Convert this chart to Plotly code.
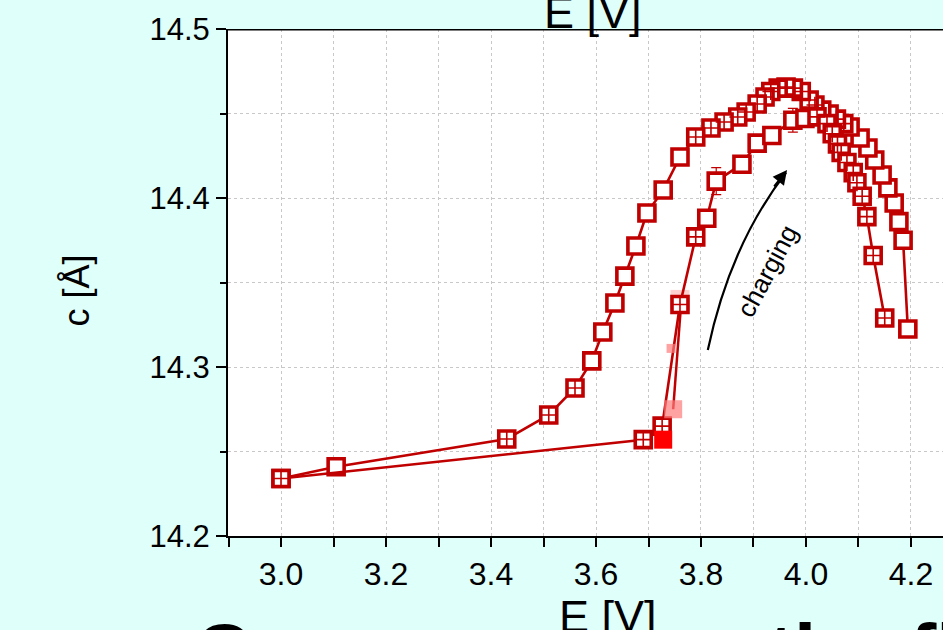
import plotly.graph_objects as go

# ---- data ----
charge_E = [3.000, 3.690, 3.726, 3.760, 3.790, 3.811, 3.829, 3.878, 3.907, 3.935, 3.975, 3.998,
            4.021, 4.040, 4.050, 4.060, 4.067, 4.078, 4.090, 4.097, 4.107, 4.116, 4.128, 4.150]
charge_c = [14.234, 14.257, 14.265, 14.337, 14.377, 14.388, 14.410, 14.420, 14.4325, 14.437, 14.446, 14.447,
            14.448, 14.444, 14.438, 14.432, 14.427, 14.421, 14.415, 14.409, 14.401, 14.389, 14.366, 14.329]
charge_cross = [1, 1, 1, 1, 1, 0, 0, 0, 0, 0, 0, 0,
                1, 1, 1, 1, 1, 1, 1, 1, 1, 1, 1, 1]
charge_err = [0, 0, 0, 0, 0, 0, 0.008, 0, 0, 0, 0.007, 0,
              0, 0, 0, 0, 0, 0, 0, 0, 0, 0, 0, 0]

dis_E = [4.194, 4.185, 4.177, 4.168, 4.156, 4.145, 4.131, 4.118, 4.103, 4.084,
         4.072, 4.058, 4.044, 4.030, 4.017, 4.006,
         3.991, 3.976, 3.962, 3.947, 3.933, 3.922, 3.907, 3.886, 3.870, 3.844, 3.819, 3.790,
         3.760, 3.728, 3.697, 3.676, 3.655, 3.636, 3.613, 3.592,
         3.560, 3.510, 3.430, 3.105, 3.000]
dis_c = [14.3225, 14.375, 14.386, 14.397, 14.406, 14.4136, 14.4225, 14.4296, 14.4355, 14.442,
         14.444, 14.4467, 14.4497, 14.452, 14.455, 14.458,
         14.463, 14.465, 14.4657, 14.465, 14.463, 14.4598, 14.4556, 14.4509, 14.4479, 14.445, 14.4414, 14.4361,
         14.4243, 14.4047, 14.3911, 14.3716, 14.3538, 14.3379, 14.3207, 14.3036,
         14.2876, 14.2716, 14.2574, 14.241, 14.234]
dis_cross = [0, 0, 0, 0, 0, 0, 0, 0, 0, 0,
             1, 1, 0, 0, 1, 1,
             1, 1, 1, 1, 1, 1, 1, 1, 1, 1, 1, 1,
             0, 0, 0, 0, 0, 0, 0, 0,
             1, 1, 1, 0, 1]

pink_E = [3.747, 3.743]
pink_c = [14.275, 14.311]
pinkline_E = [3.747, 3.762]
pinkline_c = [14.275, 14.337]
halo_E = [3.760]
halo_c = [14.340]
red_E = [3.728]
red_c = [14.257]

x_ticks = [3.0, 3.2, 3.4, 3.6, 3.8, 4.0, 4.2]
y_ticks = [14.2, 14.3, 14.4, 14.5]

DARK = "#C00000"
FONT = "Liberation Sans, Arial, sans-serif"

fig = go.Figure()

# pale halo behind one charge point
fig.add_trace(go.Scatter(x=halo_E, y=halo_c, mode="markers",
                         marker=dict(symbol="square", size=19, color="#FFD0D0", line=dict(width=0)),
                         showlegend=False, hoverinfo="skip"))
# extra line from pink point
fig.add_trace(go.Scatter(x=pinkline_E, y=pinkline_c, mode="lines",
                         line=dict(color=DARK, width=2.5), showlegend=False, hoverinfo="skip"))

def add_series(E, c, cross, err=None):
    fig.add_trace(go.Scatter(
        x=E, y=c, mode="lines+markers",
        line=dict(color=DARK, width=2.6),
        marker=dict(symbol="square", size=16, color="white", line=dict(color=DARK, width=3.6)),
        error_y=dict(type="data", array=err, visible=True, color=DARK,
                     thickness=1.2, width=5) if err is not None else None,
        showlegend=False, hoverinfo="skip"))
    cx = [e for e, k in zip(E, cross) if k]
    cy = [v for v, k in zip(c, cross) if k]
    fig.add_trace(go.Scatter(
        x=cx, y=cy, mode="markers",
        marker=dict(symbol="cross-thin-open", size=12, color=DARK, line=dict(color=DARK, width=1.6)),
        showlegend=False, hoverinfo="skip"))

add_series(dis_E, dis_c, dis_cross)
add_series(charge_E, charge_c, charge_cross, charge_err)

# pink markers
fig.add_trace(go.Scatter(x=pink_E, y=pink_c, mode="markers",
                         marker=dict(symbol="square", size=[18, 9], color="#FF7A7A", line=dict(width=0)),
                         showlegend=False, hoverinfo="skip"))
# bright red filled marker
fig.add_trace(go.Scatter(x=red_E, y=red_c, mode="markers",
                         marker=dict(symbol="square", size=18, color="#FF0000", line=dict(width=0)),
                         showlegend=False, hoverinfo="skip"))

# curved "charging" arrow
fig.add_shape(type="path", xref="x", yref="y",
              path="M 3.813,14.310 Q 3.855,14.372 3.962,14.4150",
              line=dict(color="black", width=2.2))
fig.add_annotation(x=3.964, y=14.4166, xref="x", yref="y", ax=-14, ay=18,
                   showarrow=True, arrowhead=2, arrowsize=1.3, arrowwidth=2.2,
                   arrowcolor="black", text="")
fig.add_annotation(x=3.926, y=14.357, xref="x", yref="y", text="charging",
                   textangle=-62, showarrow=False,
                   font=dict(family=FONT, size=26, color="black"))

# top frame line
fig.add_shape(type="line", xref="paper", yref="y", x0=0, x1=1, y0=14.5, y1=14.5,
              line=dict(color="black", width=3))

# axis titles and cut-off texts
fig.add_annotation(xref="paper", yref="paper", x=-0.212, y=0.485, xanchor="center",
                   yanchor="middle", text="c [Å]", textangle=-90, showarrow=False,
                   font=dict(family=FONT, size=36, color="black"))
fig.add_annotation(xref="paper", yref="paper", x=0.532, y=-0.158, xanchor="center",
                   yanchor="middle", text="E [V]", showarrow=False,
                   font=dict(family=FONT, size=45, color="black"))
fig.add_annotation(xref="paper", yref="paper", x=0.510, y=1.033, xanchor="center",
                   yanchor="middle", text="E [V]", showarrow=False,
                   font=dict(family=FONT, size=45, color="black"))
fig.add_annotation(xref="paper", yref="paper", x=-0.050, y=-0.229, xanchor="left",
                   yanchor="middle", text="<b>Consensus on the fit</b>", showarrow=False,
                   font=dict(family=FONT, size=80, color="black"))

fig.update_layout(
    width=943, height=630,
    margin=dict(l=228, r=0, t=29, b=94),
    paper_bgcolor="#DFFFFB", plot_bgcolor="white",
    font=dict(family=FONT, color="black"),
    xaxis=dict(range=[2.899, 4.261], tickvals=x_ticks, tickformat=".1f",
               ticks="outside", ticklen=9, tickwidth=2, tickcolor="black",
               showline=True, linewidth=2, linecolor="black",
               showgrid=False, zeroline=False,
               tickfont=dict(family=FONT, size=32, color="black"),
               minor=dict(dtick=0.1, tick0=2.9, ticks="outside", ticklen=9, tickwidth=2,
                          tickcolor="black", showgrid=True, griddash="dot",
                          gridcolor="#C8C8C8", gridwidth=1)),
    yaxis=dict(range=[14.2, 14.5], tickvals=y_ticks, tickformat=".1f",
               ticks="outside", ticklen=10, tickwidth=2, tickcolor="black",
               showline=True, linewidth=2, linecolor="black",
               showgrid=False, zeroline=False,
               tickfont=dict(family=FONT, size=31, color="black"),
               minor=dict(dtick=0.05, tick0=14.2, ticks="outside", ticklen=6, tickwidth=2,
                          tickcolor="black", showgrid=True, griddash="dot",
                          gridcolor="#C8C8C8", gridwidth=1)),
)

fig.write_html("out.html", config={"displayModeBar": False},
               post_script="document.body.style.margin='0';document.body.style.overflow='hidden';")
